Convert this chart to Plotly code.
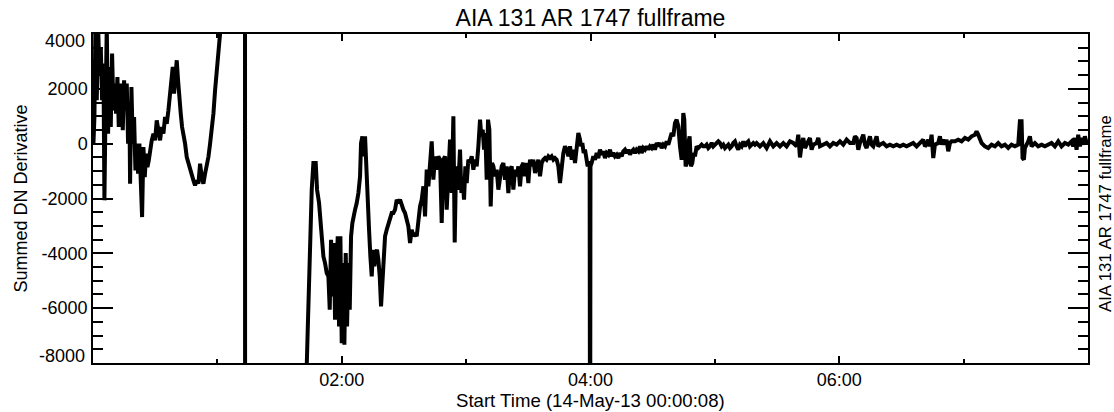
import plotly.graph_objects as go

# ---------------- data (minutes after 00:00, summed DN derivative) ----------------
minutes_pre = [0.21, 0.69, 1.17, 1.82, 2.46, 3.10, 3.75, 4.39, 5.03, 5.51, 6.00, 6.64, 7.28, 7.93, 8.57,
               9.21, 9.85, 10.50, 11.14, 11.78, 12.43, 13.07, 13.71, 14.36, 15.00, 15.64, 16.29, 16.93,
               17.57, 17.89, 18.54, 19.18, 19.82, 20.47, 21.11, 21.75, 22.39, 23.04, 23.68, 24.32, 24.97,
               25.61, 26.25, 26.90, 27.54, 28.34, 29.15, 29.95, 30.75, 31.56, 32.36, 33.17, 33.97, 34.77,
               35.58, 36.38, 37.19, 37.83, 38.47, 39.11, 39.76, 40.40, 41.04, 41.69, 42.33, 42.97, 43.62,
               44.42, 45.22, 46.03, 46.83, 47.64, 48.44, 49.24, 50.05, 50.85, 51.66, 52.46, 53.26, 54.07,
               54.87, 55.67, 56.48, 57.28, 58.09, 58.89, 59.69, 60.50, 61.30, 62.11]
dn_pre = [0, 973, 4300, 1582, 4300, 2555, 3528, 1582, 2920, -2068, 973, 4300, 365, 2798, 608,
          3285, 1217, 2190, 1095, 2433, 608, 1947, 2190, 487, 2312, 1217, 2190, 0,
          1338, -1460, 2068, 0, 973, -973, 0, -1095, 0, -1095, -2677, -122, -1217,
          -365, -852, -608, -243, 122, 365, 122, 852, 365, 122, 608, 365, 973,
          730, 1217, 1825, 2190, 2798, 1825, 2555, 3042, 2312, 1338, 1095, 608, 365,
          0, -487, -730, -973, -1217, -1338, -1521, -1338, -1460, -730, -1217, -1460, -1095,
          -852, -487, 0, 487, 1095, 1947, 2555, 3285, 4015, 5200]

# off-scale excursion (flare onset)
minutes_flare = [64.0, 68.0, 72.0, 73.30, 73.40, 80.0, 90.0, 98.0, 102.5]
dn_flare = [8000, 12000, 16000, 18000, -20000, -16000, -13000, -10500, -8600]

minutes_decay = [103.11, 103.59, 103.91, 104.55, 105.04, 105.52, 106.32, 107.45,
                 108.09, 109.06, 109.70, 110.34, 111.15, 111.95, 112.75, 113.56,
                 114.20, 114.84, 115.49, 116.13, 116.77, 117.42, 118.06, 118.70, 119.35, 119.99,
                 120.63, 121.27, 121.92, 122.56, 123.20, 123.85, 124.49,
                 125.13, 125.78, 126.42, 127.22, 128.03, 128.83,
                 129.31, 129.96, 130.60, 131.24, 131.89, 132.53, 133.17, 133.81, 134.46, 135.10,
                 135.74, 136.39, 137.03, 137.67, 138.32, 138.96, 139.60, 140.24, 140.89,
                 141.69, 142.50, 143.30, 144.10, 144.91, 145.71, 146.52, 147.32, 148.12, 148.93,
                 149.73, 150.53, 151.34, 152.14, 152.95, 153.75, 154.55, 155.36, 156.16, 156.96,
                 157.77, 158.57, 159.38]
dn_decay = [-8100, -6789, -5694, -4234, -3261, -1679, -706, -706,
            -1679, -2166, -2774, -3382, -4112, -4356, -4721, -4842,
            -6059, -3504, -5573, -3626, -6424, -4842, -3382, -6668, -3382, -7276,
            -4356, -7337, -3991, -6668, -4356, -6059, -3382,
            -2896, -2531, -2409, -2166, -1801, -1192,
            24, 268, -462, 268, -1192, -1922, -3139, -4112, -4842, -3869,
            -4477, -3991, -3869, -4234, -4842, -5938, -5207, -4234, -3382,
            -3139, -2896, -2652, -2531, -2531, -2409, -2044, -2166, -2044, -2287,
            -2409, -2531, -2774, -3017, -3626, -3139, -3382, -3261, -3382, -2774,
            -2287, -2044, -1557]

minutes_recovery = [160.18, 160.99, 161.79, 162.59, 163.40, 164.20, 165.00, 165.81, 166.61, 167.42,
                    168.22, 169.02, 169.83, 170.63, 171.44, 172.24, 173.04, 173.85,
                    174.49, 175.13, 175.78, 176.42, 177.06, 177.71, 178.35, 178.99, 179.63, 180.28,
                    181.08, 181.89, 182.69, 183.49, 184.30, 185.10, 185.90, 186.71,
                    187.35, 188.00, 188.64, 189.28, 189.92, 190.57, 191.21, 191.85, 192.50, 193.14,
                    193.94, 194.75, 195.55, 196.35, 197.16, 197.96, 198.77, 199.57, 200.37, 201.18,
                    201.98, 202.79, 203.59, 204.39, 205.20, 206.00, 206.80, 207.61, 208.41, 209.22,
                    210.02, 210.82, 211.63, 212.43, 213.24, 214.04, 214.84, 215.65, 216.45, 217.25,
                    218.06, 218.86, 219.67, 220.47, 221.27, 222.08, 222.88, 223.69, 224.49, 225.29,
                    226.10, 226.90, 227.70, 228.51, 229.31, 230.12, 230.92, 231.72, 232.53, 233.33,
                    234.14, 234.94]
dn_recovery = [-2652, -949, -1557, -827, 85, -1314, -462, -949, -462, -584,
               -2896, -584, -462, -2409, -827, 146, -1801, 998,
               -3600, -827, -1679, -1192, -219, -1801, -1314, -2044, -827, -1436,
               -584, -706, -462, -949, -584, -827, -97, 876,
               268, 511, -219, 389, -1314, 876, 511, -2287, -706, -827,
               -1192, -949, -1679, -1192, -827, -706, -1314, -827, -1801, -949,
               -827, -1679, -949, -1192, -827, -1557, -827, -706, -1192, -706,
               -1436, -584, -827, -584, -1071, -827, -584, -1192, -706, -584,
               -523, -584, -462, -523, -462, -584, -523, -584, -827, -1436,
               -706, -341, -97, -219, -462, -97, -584, -219, -706, 24,
               389, 146]

minutes_mid = [235.41, 236.06, 236.70, 237.34, 237.99, 238.63, 239.27, 239.59, 239.80, 239.98,
               240.56, 241.36, 242.17, 242.97, 243.77, 244.58, 245.38, 246.19, 246.99, 247.79,
               248.60, 249.40, 250.20, 251.01, 251.81, 252.62, 253.42, 254.22, 255.03, 255.83,
               256.64, 257.44, 258.24, 259.05, 259.85, 260.65, 261.46, 262.26, 263.07, 263.87,
               264.67, 265.48, 266.28, 267.09, 267.89, 268.69, 269.50, 270.30, 271.10, 271.91,
               272.71, 273.52, 274.32, 275.12, 275.93, 276.73, 277.54, 278.34, 279.14, 279.95,
               280.75, 281.55, 282.36, 283.16, 283.97, 284.77, 285.25, 285.89, 286.54, 287.18,
               287.82, 288.47, 289.11, 289.75, 290.40, 291.20,
               292.00, 292.81, 293.61, 294.42, 295.22, 296.02, 296.83, 297.63, 298.44, 299.24,
               300.04, 300.85, 301.65, 302.45, 303.26, 304.06, 304.87, 305.67, 306.47, 307.28,
               308.08, 308.88, 309.69, 310.49, 311.30, 312.10, 312.90, 313.71, 314.51, 315.32,
               316.12, 316.92, 317.73, 318.53, 319.34]
dn_mid = [-97, 24, -341, -219, -462, -827, -645, -827, -15000, -827,
          -706, -462, -584, -341, -523, -219, -402, -280, -523, -341,
          -402, -219, -462, -341, -462, -402, -523, -341, -462, -280,
          -219, -341, -219, -402, -280, -219, -341, -219, -280, -97,
          -341, -158, -219, -97, -219, -97, -158, -36, -219, 24,
          -97, 24, -158, -36, -97, 85, -36, 146, 389, 268,
          754, 876, 633, -97, -584, 1119, 876, -827, -706, 24,
          268, -827, -706, -341, -462, -97,
          -158, -97, -36, -97, -97, -36, -158, -97, 24, -97,
          -36, 24, 85, 24, -97, -36, -158, -97, -36, -158,
          -97, 24, 85, -97, -219, -36, -97, 85, -97, 24,
          85, -97, -36, 24, -36]

minutes_late = [320.15, 321.75, 323.36, 324.97, 326.58, 328.18, 329.79, 331.40, 333.01, 334.61,
                336.22, 337.83, 339.44, 340.24, 341.05, 341.85, 342.65, 343.46, 344.26, 345.87,
                346.67, 347.48, 349.08, 349.89, 350.69, 352.30, 353.91, 355.51, 357.12, 358.73,
                360.34, 361.95, 363.55, 365.16, 366.77, 367.57, 368.38, 369.18, 369.98, 371.59,
                372.40, 373.20, 374.81, 375.61, 376.42, 378.02, 378.83, 379.63, 381.24, 382.85,
                384.45, 386.06, 387.67, 389.28, 390.88, 392.49, 394.10, 395.71, 397.32, 398.92,
                400.53, 401.33, 402.14,
                402.94, 403.74, 404.55, 405.35, 406.15, 407.76, 408.56, 409.37, 410.17, 410.98,
                411.78, 412.58, 413.39, 414.19, 415.80, 417.41, 419.01, 420.62, 422.23, 423.84,
                425.45, 426.25, 427.05, 427.86, 428.66, 430.27, 431.88, 433.48, 435.09, 436.70,
                438.31, 439.91, 441.52, 443.13, 444.74, 446.34, 447.15, 447.95, 448.43, 449.08,
                449.56, 451.17, 451.97, 452.77, 454.38, 455.99, 457.60, 459.21, 460.81, 462.42,
                464.03, 465.64, 467.24, 468.85, 470.46, 472.07, 472.87, 473.67, 474.48, 475.28,
                476.09, 476.89, 477.69, 478.50, 479.30, 479.94]
dn_late = [24, -97, 24, -158, 85, -97, 24, -97, 24, -97,
           85, 24, -97, 328, -500, -36, 207, -158, -36, 207,
           -219, -36, 24, 207, -97, -36, 24, -97, 24, -36,
           85, -36, 146, 24, 24, 268, 207, -219, 24, 328,
           -36, -158, 268, -36, -97, 268, -97, -36, 24, -97,
           -36, -97, -36, -97, -36, -97, -36, 24, -97, 24,
           146, -97, -36,
           146, -97, 328, -523, -36, 24, 268, -36, 146, -36,
           146, -280, 24, 85, 85, 146, 85, 207, 146, 268,
           328, 450, 328, 207, 24, -97, -158, -36, -97, 24,
           -97, -36, -158, -36, -97, -36, 815, 815, -523, -584,
           -158, 85, 268, -97, 24, -97, -36, -97, -36, 24,
           -97, 85, -97, 24, -36, 85, -97, 207, -219, 328,
           -97, 207, -36, 268, 24, 146]

x_tick_minutes = [120, 240, 360]
x_tick_labels = ["02:00", "04:00", "06:00"]
x_minor_minutes = [60, 180, 300, 420]
y_tick_values = [-6000, -4000, -2000, 0, 2000]
y_tick_labels = ["-6000", "-4000", "-2000", "0", "2000"]
y_end_labels = ["4000", "-8000"]   # end labels, nudged inside the frame as in the original
y_range = [-8000, 4000]

title_text = "AIA 131 AR 1747 fullframe"
x_title = "Start Time (14-May-13 00:00:08)"
y_title = "Summed DN Derivative"
right_title = "AIA 131 AR 1747 fullframe"

# ---------------- figure ----------------
minutes = (minutes_pre + minutes_flare + minutes_decay + minutes_recovery
           + minutes_mid + minutes_late)
dn = dn_pre + dn_flare + dn_decay + dn_recovery + dn_mid + dn_late

FONT = "Liberation Sans, Arial, Helvetica, sans-serif"
PLOT_H = 329.0

fig = go.Figure()
fig.add_trace(go.Scatter(x=minutes, y=dn, mode="lines",
                         line=dict(color="black", width=4),
                         hoverinfo="skip", showlegend=False))

axis_common = dict(showgrid=False, zeroline=False, showline=True, linecolor="black",
                   linewidth=1.5, ticks="inside", tickcolor="black", tickwidth=1.5,
                   mirror="allticks", automargin=False,
                   tickfont=dict(family=FONT, size=18, color="black"))

end_label_style = dict(xref="paper", yref="paper", x=-6 / 995, xanchor="right",
                       yanchor="middle", showarrow=False,
                       font=dict(family=FONT, size=18, color="black"))

fig.update_layout(
    width=1114, height=412,
    margin=dict(l=93, r=26, t=34, b=49, pad=0),
    paper_bgcolor="white", plot_bgcolor="white",
    font=dict(family=FONT, size=18, color="black"),
    title=dict(text=title_text, x=0.5, xref="paper", xanchor="center",
               y=1 - 18 / 412, yref="container", yanchor="middle",
               font=dict(family=FONT, size=23, color="black")),
    xaxis=dict(range=[0, 480], tickmode="array", tickvals=x_tick_minutes,
               ticktext=x_tick_labels, ticklen=7,
               minor=dict(tickmode="array", tickvals=x_minor_minutes, ticks="inside",
                          ticklen=4, tickwidth=1.5, tickcolor="black", showgrid=False),
               **axis_common),
    yaxis=dict(range=y_range, tickmode="array", tickvals=y_tick_values,
               ticktext=y_tick_labels, ticklen=20,
               minor=dict(dtick=500, ticks="inside", ticklen=10, tickwidth=1.5,
                          tickcolor="black", showgrid=False),
               **axis_common),
    annotations=[
        dict(text=y_end_labels[0], y=(363 - 41) / PLOT_H, **end_label_style),
        dict(text=y_end_labels[1], y=(363 - 356) / PLOT_H, **end_label_style),
        dict(text=x_title, xref="paper", yref="paper", x=0.5, y=(363 - 400) / PLOT_H,
             xanchor="center", yanchor="middle", showarrow=False,
             font=dict(family=FONT, size=18.6, color="black")),
        dict(text=y_title, xref="paper", yref="paper", x=(20 - 93) / 995, y=0.5,
             xanchor="center", yanchor="middle", textangle=-90, showarrow=False,
             font=dict(family=FONT, size=18, color="black")),
        dict(text=right_title, xref="paper", yref="paper", x=(1105 - 93) / 995,
             y=(363 - 214) / PLOT_H,
             xanchor="center", yanchor="middle", textangle=-90, showarrow=False,
             font=dict(family=FONT, size=16.8, color="black")),
    ],
)

fig.write_html("out.html")
